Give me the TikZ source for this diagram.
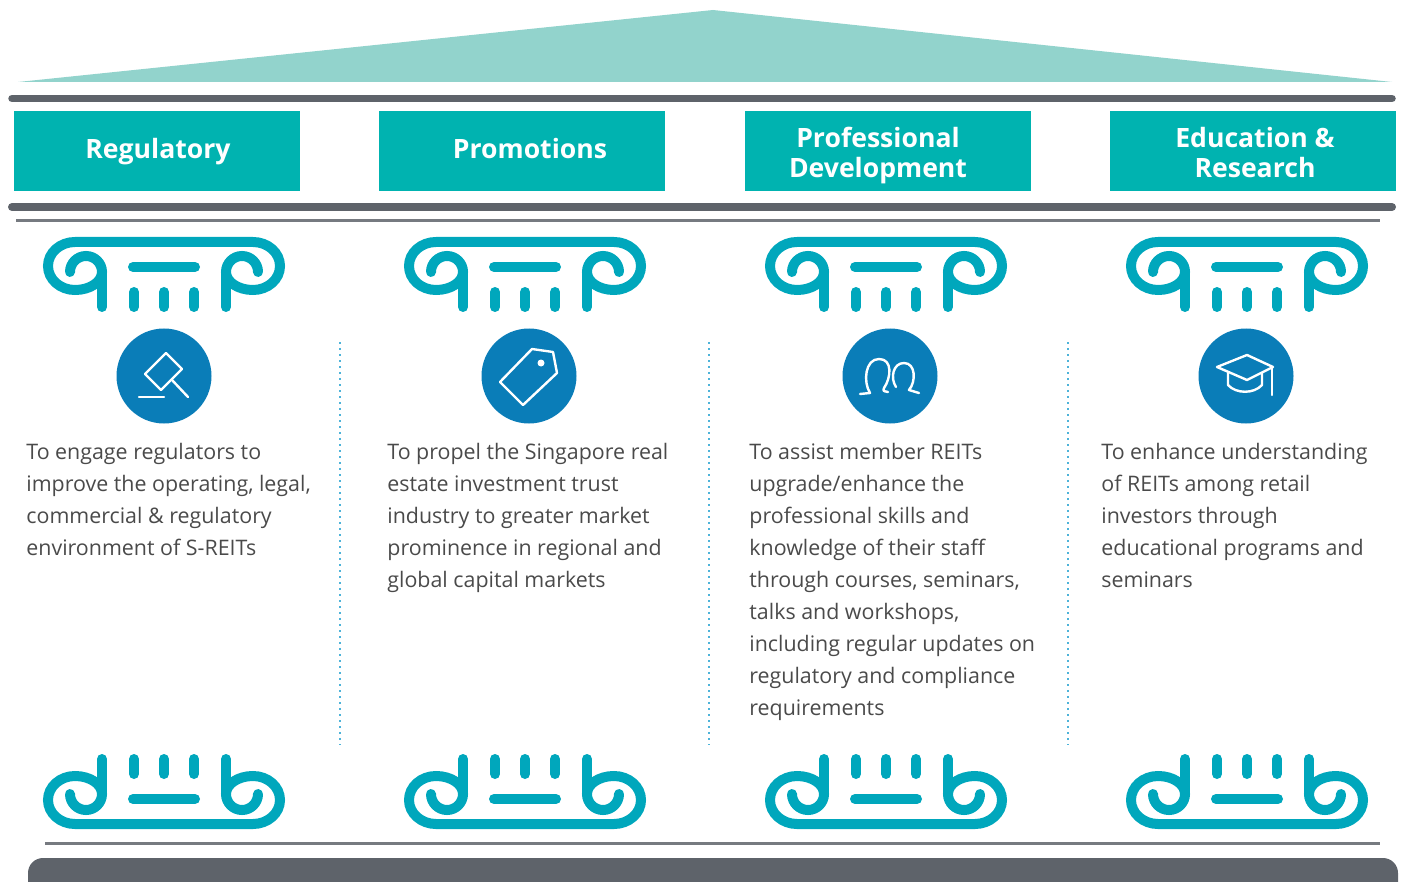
\documentclass[tikz,border=0pt]{standalone}
\usepackage{fontspec}
\setmainfont{Open Sans}
\usepackage{tikz}
\usetikzlibrary{positioning}

\definecolor{sreitRoof}{HTML}{92D3CC}
\definecolor{sreitTeal}{HTML}{00B3B0}
\definecolor{sreitScroll}{HTML}{00A7BC}
\definecolor{sreitBlue}{HTML}{0A7DB8}
\definecolor{sreitBar}{HTML}{5E636A}
\definecolor{sreitText}{HTML}{4A4A4A}
\definecolor{sreitDots}{HTML}{4DB3D9}

\tikzset{
  capital/.pic={
    \draw[sreitScroll, line width=5pt, line cap=round]
      (-94,30) arc[start angle=180, end angle=360, radius=16]
      arc[start angle=0, end angle=90, x radius=27, y radius=18]
      arc[start angle=90, end angle=270, x radius=27, y radius=24]
      -- (89,0)
      arc[start angle=270, end angle=450, x radius=27, y radius=24]
      arc[start angle=90, end angle=180, x radius=27, y radius=18]
      arc[start angle=180, end angle=360, radius=16];
    \draw[sreitScroll, line width=5pt, line cap=round]
      (-62,30) -- (-62,65) (62,30) -- (62,65) (-31,25) -- (31,25);
    \foreach \px in {-30,0,30}
      \draw[sreitScroll, line width=5pt, line cap=round] (\px,50) -- (\px,65);
  }
}

\begin{document}
\begin{tikzpicture}[x=0.5pt, y=-0.5pt,
  pillar/.style={fill=sreitTeal, minimum width=143pt, minimum height=40pt,
    inner sep=0pt},
  pillartext/.style={inner sep=0pt, text=white, align=center,
    font=\bfseries\fontsize{13.3}{15}\selectfont},
  badge/.style={circle, fill=sreitBlue, minimum size=47.5pt, inner sep=0pt},
  blurb/.style={anchor=north west, inner sep=0pt, align=left, text=sreitText,
    font=\fontsize{10.7}{16}\selectfont},
  glyph/.style={white, line width=1.2pt, line join=round, line cap=round},
  bar/.style={sreitBar, line cap=round},
  divider/.style={sreitDots, line width=1pt, dash pattern=on 1pt off 2pt}]
  \useasboundingbox (0,0) rectangle (1403,882);
  \clip (0,0) rectangle (1403,882);

  % roof and entablature
  \fill[sreitRoof] (18,82) -- (713,10) -- (1392,82) -- cycle;
  \draw[bar, line width=3.75pt] (12,98.5) -- (1392,98.5);
  \draw[bar, line width=4pt] (12,207) -- (1392,207);
  \draw[sreitBar!85, line width=1.25pt] (16,220.5) -- (1380,220.5);

  % the four pillars
  \node[pillar] (reg)   at (157,151)  {};
  \node[pillar] (promo) at (522,151)  {};
  \node[pillar] (prof)  at (888,151)  {};
  \node[pillar] (edu)   at (1253,151) {};
  \node[pillartext] (regname)   at (158,153)  {Regulatory\strut};
  \node[pillartext] (promoname) at (530,153)  {Promotions\strut};
  \node[pillartext] (profname)  at (878,157)  {Professional\strut\\Development\strut};
  \node[pillartext] (eduname)   at (1255,157) {Education \&\strut\\Research\strut};

  % scroll capitals, top and bottom
  \foreach \cx in {164,525,886,1247} {
    \pic at (\cx,242) {capital};
    \pic[yscale=-1] at (\cx,824) {capital};
  }

  % icons
  \node[badge] (regicon)   at (164,376)  {};
  \node[badge] (promoicon) at (529,376)  {};
  \node[badge] (proficon)  at (890,376)  {};
  \node[badge] (eduicon)   at (1246,376) {};

  \begin{scope}[shift={(regicon.center)}]
    \draw[glyph] (-19,-2) -- (2,-23) -- (18,-7) -- (-3,14) -- cycle;
    \draw[glyph] (8,4) -- (24,21);
    \draw[glyph] (-25,21) -- (0,21);
  \end{scope}
  \begin{scope}[shift={(promoicon.center)}]
    \draw[glyph] (-29,6) -- (3,-27) -- (24,-24) -- (28,-3) -- (-6,29) -- cycle;
    \fill[white] (12,-13) circle[radius=3.5];
  \end{scope}
  \begin{scope}[shift={(proficon.center)}]
    \draw[glyph] (-30,18) -- (-20,17) .. controls (-27,6) and (-25,-17) .. (-11,-17)
      .. controls (3,-17) and (1,2) .. (-6,12) .. controls (-7,15) .. (-2,16);
    \draw[glyph] (6,11) .. controls (0,2) and (3,-13) .. (14,-13)
      .. controls (26,-13) and (26,6) .. (19,14) -- (29,17);
  \end{scope}
  \begin{scope}[shift={(eduicon.center)}]
    \draw[glyph] (-29,-9) -- (1,-21) -- (27,-9) -- (1,4) -- cycle;
    \draw[glyph] (-18,-3) -- (-18,9) .. controls (-10,18) and (8,18) .. (16,9) -- (16,-3);
    \draw[glyph] (26,-8) -- (26,19);
  \end{scope}

  % dotted separators
  \foreach \dx in {340,709,1068}
    \draw[divider] (\dx,342) -- (\dx,745);

  % descriptions
  \node[blurb] (regtxt) at (26,443)
    {To engage regulators to\\improve the operating, legal,\\commercial \& regulatory\\environment of S-REITs};
  \node[blurb] (promotxt) at (387,443)
    {To propel the Singapore real\\estate investment trust\\industry to greater market\\prominence in regional and\\global capital markets};
  \node[blurb] (proftxt) at (749,443)
    {To assist member REITs\\upgrade/enhance the\\professional skills and\\knowledge of their staff\\through courses, seminars,\\talks and workshops,\\including regular updates on\\regulatory and compliance\\requirements};
  \node[blurb] (edutxt) at (1101,443)
    {To enhance understanding\\of REITs among retail\\investors through\\educational programs and\\seminars};

  % base
  \draw[sreitBar!85, line width=1.25pt] (45,843.5) -- (1380,843.5);
  \fill[sreitBar, rounded corners=7.5pt] (28,858) rectangle (1398,920);
\end{tikzpicture}
\end{document}
